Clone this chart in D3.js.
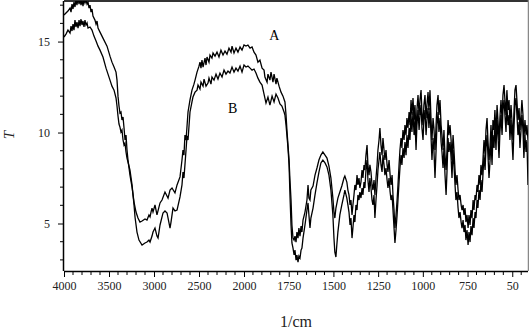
<!DOCTYPE html>
<html><head><meta charset="utf-8">
<script src="https://cdn.jsdelivr.net/npm/d3@7"></script>
<style>body{margin:0;background:#fff}svg{display:block}</style>
</head><body>
<svg id="c" width="529" height="332"></svg>
<script>
// ---- data ----
const xMajorTicks = [4000, 3500, 3000, 2500, 2000, 1750, 1500, 1250, 1000, 750, 500];
const xTickLabels = ["4000", "3500", "3000", "2500", "2000", "1750", "1500", "1250", "1000", "750", "50"];
const yMajorTicks = [5, 10, 15];
const seriesNames = ["A", "B"];

const waveA = [4000,3978,3956,3933,3922,3911,3900,3889,3878,3867,3856,3844,3833,3822,3811,3800,3789,3778,3767,3756,3744,3733,3722,3711,3700,3689,3678,3656,3644,3633,3622,3600,3567,3522,3489,3467,3444,3422,3411,3400,3389,3378,3367,3356,3344,3333,3322,3311,3300,3289,3267,3244,3222,3200,3178,3156,3133,3100,3078,3056,3044,3033,3022,3011,2989,2967,2933,2911,2878,2844,2822,2800,2767,2744,2711,2689,2678,2667,2656,2644,2622,2600,2578,2556,2544,2522,2500,2489,2478,2467,2455,2433,2422,2411,2389,2378,2356,2344,2322,2300,2278,2256,2233,2211,2189,2167,2144,2133,2111,2089,2067,2044,2022,2000,1989,1978,1966,1955,1944,1933,1922,1911,1899,1888,1883,1871,1866,1855,1849,1838,1832,1821,1816,1804,1793,1782,1771,1765,1760,1754,1748,1743,1737,1732,1726,1720,1715,1709,1704,1698,1693,1687,1681,1676,1670,1659,1648,1642,1637,1631,1626,1614,1603,1592,1581,1570,1559,1547,1536,1525,1514,1503,1497,1492,1486,1475,1464,1453,1441,1436,1425,1419,1413,1407,1402,1396,1391,1385,1380,1374,1368,1363,1357,1352,1346,1340,1335,1329,1324,1318,1312,1307,1301,1296,1290,1284,1279,1273,1268,1262,1256,1251,1245,1240,1234,1228,1223,1217,1212,1206,1200,1195,1189,1183,1178,1172,1167,1161,1156,1150,1144,1139,1133,1128,1122,1117,1111,1105,1100,1094,1089,1083,1077,1072,1066,1061,1055,1049,1044,1038,1033,1027,1021,1016,1010,1005,999,994,988,982,977,971,966,960,954,949,943,938,932,926,921,915,910,904,898,893,887,882,876,870,865,859,854,848,842,837,831,826,820,815,809,803,798,792,786,781,775,770,764,759,753,747,742,736,731,725,719,714,708,703,697,692,686,680,675,669,664,658,652,647,641,636,630,624,619,613,608,602,597,591,585,580,574,569,563,557,552,546,541,535,530,524,518,513,507,502,496,490,485,479,474,468,462,457,451,446,440,435,429,423,418,412];
const tA = [16.46,16.57,16.68,16.84,16.62,17.06,16.79,17.17,16.90,17.3,17.0,17.4,17.06,17.33,17.0,17.28,16.95,17.33,17.12,17.28,17.06,17.17,16.84,17.0,16.62,16.79,16.4,16.18,15.96,16.13,15.74,15.52,15.19,14.75,14.2,13.87,13.6,13.32,12.88,12.0,11.46,11.07,11.13,10.69,10.85,10.25,9.59,9.86,9.04,8.49,7.66,7.0,6.18,5.63,5.3,5.08,5.14,5.25,5.19,5.47,5.36,5.63,5.85,5.63,6.02,5.47,6.13,6.29,6.73,6.4,6.84,6.95,6.68,7.12,7.56,8.49,9.04,8.76,9.86,9.59,11.13,11.79,12.33,12.66,12.88,13.32,13.65,13.87,13.54,13.98,13.6,14.09,13.71,14.15,13.87,14.26,14.09,14.37,14.2,14.42,14.15,14.53,14.26,14.48,14.31,14.64,14.42,14.75,14.37,14.64,14.42,14.7,14.53,14.81,14.75,14.81,14.64,14.7,14.42,14.26,13.87,13.98,13.54,13.43,13.05,12.77,13.21,12.88,13.32,12.77,13.21,12.66,12.99,12.55,12.22,12.0,11.68,10.96,10.14,9.31,8.49,7.39,6.29,4.92,4.2,4.09,4.31,3.98,4.53,4.2,4.75,4.31,4.86,4.53,5.19,5.63,6.29,7.12,6.4,6.29,6.84,7.06,7.66,8.05,8.49,8.76,8.93,8.76,8.6,8.16,7.5,6.4,5.63,5.3,5.85,6.4,6.73,7.06,7.5,7.61,7.28,6.84,6.57,6.02,6.29,5.47,6.02,6.57,7.12,6.84,7.66,7.12,7.5,6.95,7.28,7.94,7.5,8.22,7.94,8.76,9.31,8.22,7.66,8.22,7.83,7.12,6.84,7.39,6.57,7.5,8.22,9.04,9.59,10.25,9.31,8.76,9.7,9.04,8.49,9.04,8.22,7.83,8.49,7.66,7.12,7.66,6.57,5.74,4.75,5.47,6.29,7.12,8.22,9.04,9.7,9.15,10.14,9.59,10.41,9.86,10.8,10.25,11.13,10.41,11.79,10.96,11.9,10.69,11.51,9.86,11.24,12.06,10.96,11.79,12.33,11.13,10.41,11.51,12.06,10.8,11.51,12.22,11.24,12.33,10.69,9.59,10.8,10.25,9.04,10.41,11.51,12.06,10.96,11.79,10.41,9.86,9.04,10.14,8.76,7.94,9.04,10.69,9.86,10.41,9.59,8.49,9.86,9.04,7.94,7.12,7.66,6.84,6.29,6.57,6.02,5.74,6.02,5.47,5.85,5.08,5.47,4.75,5.47,4.92,5.74,5.3,6.29,5.74,6.57,6.29,7.12,6.73,7.66,7.12,8.22,7.66,8.49,9.59,8.76,10.14,10.8,9.59,8.49,9.31,10.41,9.04,10.69,10.14,11.24,9.86,11.51,10.69,9.59,10.8,11.79,10.69,12.06,12.61,11.79,10.96,12.33,11.24,11.79,10.41,11.51,10.69,9.59,11.24,12.33,12.61,11.79,10.69,11.35,10.14,10.96,11.79,10.96,9.59,10.69,9.86,10.41,9.59];

const waveB = [4000,3978,3956,3933,3922,3911,3900,3889,3878,3867,3856,3844,3833,3822,3811,3800,3789,3778,3767,3756,3744,3733,3711,3689,3667,3644,3622,3600,3567,3533,3511,3489,3467,3444,3422,3411,3400,3389,3378,3367,3356,3344,3333,3322,3311,3300,3289,3267,3244,3222,3211,3189,3167,3133,3100,3078,3056,3044,3022,3011,2989,2967,2955,2933,2900,2878,2855,2822,2811,2789,2767,2744,2711,2689,2678,2667,2644,2633,2622,2600,2578,2567,2544,2522,2511,2489,2478,2455,2444,2422,2400,2389,2367,2356,2333,2311,2289,2267,2244,2222,2200,2178,2156,2133,2111,2089,2067,2044,2022,2000,1989,1978,1966,1955,1944,1933,1922,1911,1899,1888,1877,1866,1855,1843,1832,1821,1810,1799,1788,1776,1771,1765,1760,1754,1748,1743,1737,1732,1726,1720,1715,1709,1704,1698,1693,1687,1681,1676,1670,1659,1648,1642,1637,1631,1626,1614,1603,1592,1581,1570,1559,1547,1536,1525,1514,1503,1497,1492,1486,1481,1475,1464,1453,1441,1436,1425,1419,1413,1407,1402,1396,1391,1385,1380,1374,1368,1363,1357,1352,1346,1340,1335,1329,1324,1318,1312,1307,1301,1296,1290,1284,1279,1273,1268,1262,1256,1251,1245,1240,1234,1228,1223,1217,1212,1206,1200,1195,1189,1183,1178,1172,1167,1161,1156,1150,1144,1139,1133,1128,1122,1117,1111,1105,1100,1094,1089,1083,1077,1072,1066,1061,1055,1049,1044,1038,1033,1027,1021,1016,1010,1005,999,994,988,982,977,971,966,960,954,949,943,938,932,926,921,915,910,904,898,893,887,882,876,870,865,859,854,848,842,837,831,826,820,815,809,803,798,792,786,781,775,770,764,759,753,747,742,736,731,725,719,714,708,703,697,692,686,680,675,669,664,658,652,647,641,636,630,624,619,613,608,602,597,591,585,580,574,569,563,557,552,546,541,535,530,524,518,513,507,502,496,490,485,479,474,468,462,457,451,446,440,435,429,423,418,412];
const tB = [15.25,15.41,15.63,15.47,15.85,15.58,15.96,15.63,16.18,15.8,16.07,15.74,16.18,15.85,16.24,15.91,16.13,15.8,16.18,15.91,16.02,15.74,15.8,15.63,15.3,15.03,14.75,14.53,14.15,13.54,13.21,12.88,12.55,12.33,11.9,11.46,10.91,10.47,10.3,10.03,10.14,9.59,9.31,9.42,8.93,8.6,8.38,7.94,7.12,6.02,5.36,4.53,4.09,3.82,3.93,3.98,4.09,3.98,4.31,4.53,4.75,4.31,4.2,4.92,5.58,5.69,5.58,4.75,5.08,5.85,5.69,5.74,6.46,7.12,7.83,7.5,9.04,9.81,9.59,11.13,11.68,11.95,12.22,12.33,12.61,12.39,12.77,12.55,12.94,12.55,12.72,12.99,12.66,13.05,12.88,13.21,12.94,13.27,13.05,13.43,13.21,13.38,13.27,13.6,13.32,13.54,13.38,13.65,13.32,13.71,13.6,13.65,13.54,13.43,13.49,13.27,12.99,12.77,12.61,12.11,11.62,11.95,11.51,12.0,11.68,12.11,11.9,11.57,11.46,11.13,10.96,10.41,9.86,9.15,8.22,6.57,4.92,3.93,3.65,3.27,3.54,2.99,3.27,2.88,3.21,3.1,3.54,3.65,4.2,4.92,5.74,6.13,5.47,4.75,5.3,5.85,6.57,7.23,7.83,8.33,8.49,8.33,8.11,7.66,6.84,5.47,4.2,3.43,3.16,3.82,4.53,5.47,6.02,6.57,6.84,6.4,6.02,5.63,4.92,5.3,4.2,4.75,5.47,5.08,6.02,5.74,6.57,6.29,6.73,6.4,6.95,6.57,7.28,6.95,7.94,8.49,7.39,6.73,7.5,6.95,6.29,6.02,6.57,5.3,6.29,7.12,7.94,8.49,8.93,8.22,7.83,8.76,8.22,7.66,8.05,7.39,6.95,7.5,6.73,6.29,6.57,5.74,4.75,3.93,4.64,5.47,6.29,7.28,8.05,8.76,8.22,9.15,8.6,9.48,8.76,9.86,9.15,10.25,9.59,10.96,10.03,11.13,9.86,10.69,9.04,10.41,11.24,10.14,10.96,11.51,10.25,9.59,10.69,11.24,9.86,10.69,11.35,10.25,11.35,9.7,8.49,9.7,9.04,7.5,9.04,10.41,11.13,10.03,10.8,9.48,8.93,8.05,9.15,7.66,6.57,7.83,9.7,8.93,9.48,8.6,7.5,9.04,8.22,7.12,6.29,6.73,5.85,5.3,5.63,5.08,4.75,5.19,4.53,4.92,4.09,4.64,3.82,4.53,3.98,4.86,4.36,5.3,4.75,5.63,5.3,6.29,5.85,6.84,6.29,7.39,6.73,7.66,8.76,7.94,9.15,9.86,8.76,7.5,8.49,9.59,8.22,9.86,9.15,10.41,9.04,10.69,9.86,8.6,10.03,10.96,9.86,11.24,11.79,10.96,10.03,11.51,10.41,10.96,9.59,10.69,9.7,8.49,10.41,11.51,11.9,10.96,9.86,10.58,9.15,10.14,10.96,10.14,8.6,9.86,8.93,9.59,7.12];

// ---- layout ----
const L = 64, R = 528, T = 1, B = 271;
const svg = d3.select("#c");
const x = d3.scaleLinear().domain([4000, 2000, 412]).range([L, 244, R]);
const y = d3.scaleLinear().domain([2.39, 17.23]).range([B, T]);

svg.append("defs").append("clipPath").attr("id", "clip")
  .append("rect").attr("x", L).attr("y", T).attr("width", R - L).attr("height", B - T);

const font = "'Liberation Serif', 'DejaVu Serif', serif";

// x axis
const xAxis = d3.axisBottom(x).tickValues(xMajorTicks)
  .tickFormat((d, i) => xTickLabels[i]).tickSize(6).tickPadding(4);
const gx = svg.append("g").attr("transform", `translate(0,${B})`).call(xAxis);
gx.select(".domain").attr("d", `M${L},0.5H${R}`).attr("stroke", "#000").attr("stroke-width", 1.5);
gx.selectAll("text").attr("font-family", font).attr("font-size", 12).attr("fill", "#222");
const xMinor = d3.range(3900, 2000, -100).filter(v => v % 500 !== 0)
  .concat(d3.range(1950, 412, -50).filter(v => v % 250 !== 0));
svg.append("g").attr("transform", `translate(0,${B})`)
  .selectAll("line").data(xMinor).join("line")
  .attr("x1", d => x(d)).attr("x2", d => x(d)).attr("y1", 0).attr("y2", 4)
  .attr("stroke", "#000");

// y axis
const yAxis = d3.axisLeft(y).tickValues(yMajorTicks).tickSize(6).tickPadding(8);
const gy = svg.append("g").attr("transform", `translate(${L},0)`).call(yAxis);
gy.select(".domain").attr("d", `M-0.5,${T}V${B}`).attr("stroke", "#000").attr("stroke-width", 1.5);
gy.selectAll("text").attr("font-family", font).attr("font-size", 12).attr("fill", "#222");
const yMinor = d3.range(3, 18).filter(v => v % 5 !== 0);
svg.append("g").attr("transform", `translate(${L},0)`)
  .selectAll("line").data(yMinor).join("line")
  .attr("x1", -4).attr("x2", 0).attr("y1", d => y(d)).attr("y2", d => y(d))
  .attr("stroke", "#000");

// frame
svg.append("line").attr("x1", L).attr("x2", R + 1).attr("y1", 1).attr("y2", 1)
  .attr("stroke", "#333").attr("stroke-width", 2);
svg.append("line").attr("x1", R + 0.5).attr("x2", R + 0.5).attr("y1", 0).attr("y2", B)
  .attr("stroke", "#888").attr("stroke-width", 1.5);

// lines
const line = d3.line().x(d => x(d[0])).y(d => y(d[1]));
const g = svg.append("g").attr("clip-path", "url(#clip)");
[[waveA, tA], [waveB, tB]].forEach(([w, t]) => {
  g.append("path").datum(w.map((v, i) => [v, t[i]]))
    .attr("d", line).attr("fill", "none").attr("stroke", "#000")
    .attr("stroke-width", 1.3).attr("stroke-linejoin", "miter");
});

// series labels
svg.append("text").attr("x", x(1830)).attr("y", y(15.1)).attr("text-anchor", "middle")
  .attr("font-family", font).attr("font-size", 14).text(seriesNames[0]);
svg.append("text").attr("x", x(2125)).attr("y", y(11.1)).attr("text-anchor", "middle")
  .attr("font-family", font).attr("font-size", 14).text(seriesNames[1]);

// axis titles
svg.append("text").attr("x", (L + R) / 2).attr("y", 327).attr("text-anchor", "middle")
  .attr("font-family", font).attr("font-size", 16).attr("fill", "#222").text("1/cm");
svg.append("text").attr("transform", "translate(14,135) rotate(-90)").attr("text-anchor", "middle")
  .attr("font-family", font).attr("font-size", 15).attr("font-style", "italic").attr("fill", "#222").text("T");
</script>
</body></html>
